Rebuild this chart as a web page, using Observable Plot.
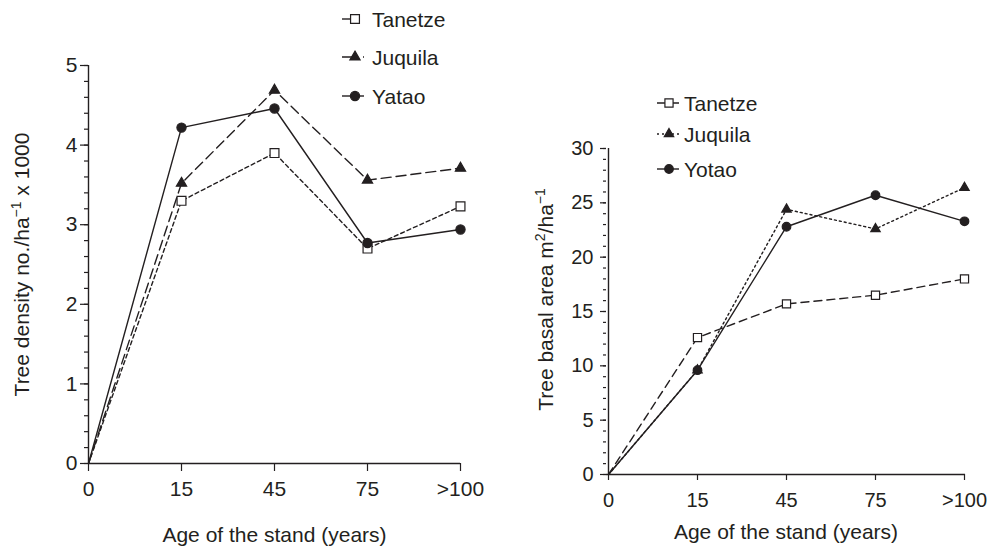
<!DOCTYPE html>
<html>
<head>
<meta charset="utf-8">
<script src="https://cdn.jsdelivr.net/npm/d3@7"></script>
<script src="https://cdn.jsdelivr.net/npm/@observablehq/plot@0.6"></script>
<style>
  html, body { margin: 0; padding: 0; background: #fff; }
  #wrap { position: relative; width: 991px; height: 547px; overflow: hidden; background: #fff;
          font-family: "Liberation Sans", Arial, Helvetica, sans-serif; color: #231f20; }
  #wrap > svg { position: absolute; top: 0; }
</style>
</head>
<body>
<div id="wrap"></div>
<script>
// ---- data ----
const ages = ["0", "15", "45", "75", ">100"];
const seriesNamesLeft = ["Tanetze", "Juquila", "Yatao"];
const seriesNamesRight = ["Tanetze", "Juquila", "Yotao"];
const densityTanetze = [0, 3.30, 3.90, 2.70, 3.23];
const densityJuquila = [0, 3.52, 4.69, 3.56, 3.71];
const densityYatao   = [0, 4.22, 4.46, 2.77, 2.94];
const basalTanetze = [0, 12.6, 15.7, 16.5, 18.0];
const basalJuquila = [0, 9.6, 24.4, 22.6, 26.4];
const basalYotao   = [0, 9.6, 22.8, 25.7, 23.3];
const densityTicks = [0, 1, 2, 3, 4, 5];
const basalTicks = [0, 5, 10, 15, 20, 25, 30];
const xTitle = "Age of the stand (years)";
const yTitleLeft = "Tree density no./ha{−1} x 1000";
const yTitleRight = "Tree basal area m{2}/ha{−1}";

const INK = "#231f20";
const FONT = '"Liberation Sans", Arial, Helvetica, sans-serif';

function rows(values) { return ages.map((a, i) => ({age: a, v: values[i]})); }

function superscripts(svg) {
  d3.select(svg).selectAll("text").each(function() {
    const t = this.textContent;
    if (!t.includes("{")) return;
    const parts = t.split(/(\{[^}]*\})/).filter(s => s.length);
    const sel = d3.select(this);
    sel.text(null);
    let raised = false;
    for (const p of parts) {
      if (p.startsWith("{")) {
        sel.append("tspan").attr("dy", raised ? 0 : -8).attr("font-size", 14).text(p.slice(1, -1));
        raised = true;
      } else {
        sel.append("tspan").attr("dy", raised ? 8 : 0).text(p);
        raised = false;
      }
    }
  });
}

function panel(o) {
  const marks = [
    Plot.axisY({ticks: o.minor, tickSize: o.minorLen, tickFormat: () => "", label: null, stroke: INK, strokeWidth: 1.2}),
    Plot.axisY({ticks: o.major, tickSize: o.majorLen, tickPadding: o.yPad, tickFormat: d => String(d), fontSize: o.fs, label: null, stroke: INK, strokeWidth: 1.2, fill: INK}),
    Plot.axisX({tickSize: o.xTickLen, tickPadding: o.xPad, fontSize: o.fs, label: null, stroke: INK, strokeWidth: 1.2, fill: INK}),
    Plot.ruleX([ages[0]], {stroke: INK, strokeWidth: 1.4}),
    Plot.ruleY([0], {stroke: INK, strokeWidth: 1.4}),
  ];
  for (const s of o.series) {
    marks.push(Plot.line(rows(s.values), {x: "age", y: "v", stroke: INK, strokeWidth: 1.4, strokeDasharray: s.dash}));
  }
  for (const s of o.series) {
    marks.push(Plot.dot(rows(s.values).slice(1), {x: "age", y: "v", symbol: s.symbol, r: s.r,
      fill: s.fill, stroke: INK, strokeWidth: 1.2}));
  }
  marks.push(Plot.text([xTitle], {frameAnchor: "bottom", dy: o.xTitleDy, textAnchor: "middle", lineAnchor: "middle", fontSize: 21, fill: INK}));
  marks.push(Plot.text([o.yTitle], {frameAnchor: "left", dx: o.yTitleDx, dy: o.yTitleDy, rotate: -90, textAnchor: "middle", lineAnchor: "middle", fontSize: 21, fill: INK}));

  const svg = Plot.plot({
    width: o.width, height: o.height,
    marginLeft: o.mL, marginRight: o.mR, marginTop: o.mT, marginBottom: o.mB,
    style: {fontFamily: FONT, fontSize: o.fs + "px", color: INK, background: "transparent", overflow: "visible"},
    x: {type: "point", domain: ages, padding: 0, label: null},
    y: {domain: o.yDomain, label: null},
    marks
  });
  superscripts(svg);
  svg.style.left = o.left + "px";
  return svg;
}

const wrap = document.getElementById("wrap");

const leftSeries = [
  {name: seriesNamesLeft[0], values: densityTanetze, dash: "4,3", legendDash: "9,13,3", symbol: "square", r: 5, fill: "white"},
  {name: seriesNamesLeft[1], values: densityJuquila, dash: "10,5", legendDash: "10,11,2", symbol: "triangle", r: 3.8, fill: INK},
  {name: seriesNamesLeft[2], values: densityYatao, dash: null, legendDash: null, symbol: "circle", r: 4.6, fill: INK},
];
const rightSeries = [
  {name: seriesNamesRight[0], values: basalTanetze, dash: "8,5", legendDash: "8,6,8", symbol: "square", r: 4.6, fill: "white"},
  {name: seriesNamesRight[1], values: basalJuquila, dash: "2,3", legendDash: "2,3", symbol: "triangle", r: 3.5, fill: INK},
  {name: seriesNamesRight[2], values: basalYotao, dash: null, legendDash: null, symbol: "circle", r: 4.3, fill: INK},
];

wrap.appendChild(panel({
  left: 0, width: 495, height: 547, mL: 88, mR: 35, mT: 65, mB: 84,
  yDomain: [0, 5], major: densityTicks, minor: d3.range(0, 5.001, 0.2).map(d => +d.toFixed(1)),
  majorLen: 8, minorLen: 4, yPad: 3, xTickLen: 8, xPad: 10, fs: 21,
  series: leftSeries, yTitle: yTitleLeft, yTitleDx: -66, yTitleDy: 0, xTitleDy: 72
}));
wrap.appendChild(panel({
  left: 495, width: 496, height: 547, mL: 111, mR: 26, mT: 148, mB: 73,
  yDomain: [0, 30], major: basalTicks, minor: d3.range(0, 31, 1),
  majorLen: 6, minorLen: 3, yPad: 7, xTickLen: 6, xPad: 12, fs: 20,
  series: rightSeries, yTitle: yTitleRight, yTitleDx: -60, yTitleDy: -12, xTitleDy: 58
}));

// ---- legends (overlay) ----
function legend(series, x0, x1, xm, xt, ys) {
  const g = d3.select(wrap).append("svg")
    .attr("width", 991).attr("height", 547)
    .style("left", "0px").style("position", "absolute").style("top", "0px")
    .style("overflow", "visible");
  const sym = {square: d3.symbolSquare, triangle: d3.symbolTriangle, circle: d3.symbolCircle};
  series.forEach((s, i) => {
    const y = ys[i];
    g.append("line").attr("x1", x0).attr("x2", x1).attr("y1", y).attr("y2", y)
      .attr("stroke", INK).attr("stroke-width", 1.4).attr("stroke-dasharray", s.legendDash);
    g.append("path").attr("transform", `translate(${xm},${y})`)
      .attr("d", d3.symbol(sym[s.symbol], Math.PI * s.r * s.r)())
      .attr("fill", s.fill).attr("stroke", INK).attr("stroke-width", 1.2);
    g.append("text").attr("x", xt).attr("y", y).attr("dy", "0.36em")
      .attr("font-family", FONT).attr("font-size", 21).attr("fill", INK).text(s.name);
  });
}
legend(leftSeries, 342, 364, 355, 372, [19, 57, 96]);
legend(rightSeries, 657, 679, 669, 684, [103, 134, 169]);
</script>
</body>
</html>
